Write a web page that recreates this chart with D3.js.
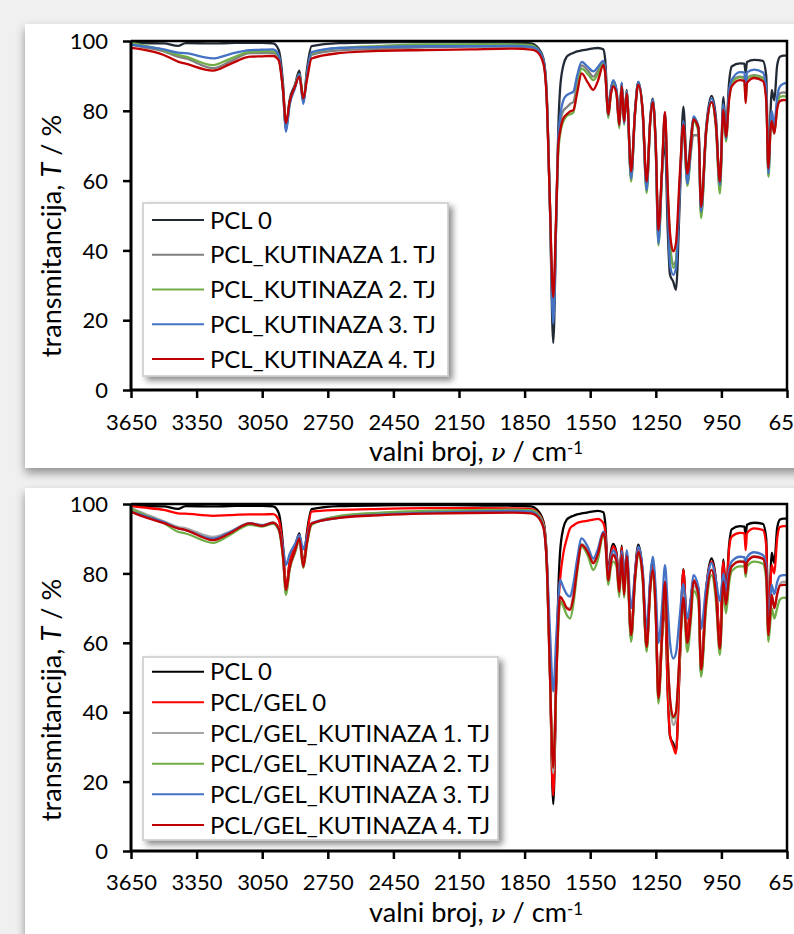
<!DOCTYPE html>
<html><head><meta charset="utf-8">
<script src="https://cdn.jsdelivr.net/npm/d3@7"></script>
<style>html,body{margin:0;padding:0;background:#f0f0f0;overflow:hidden}svg{display:block}</style>
</head><body><svg id="c" width="794" height="934"></svg>
<script>
// ---------- DATA ----------
const wavenumbers = [3650,3600,3500,3435,3400,3275,3200,3106,3050,3000,
2975,2955,2941,2925,2900,2880,2862,2845,2824,2700,
2500,2300,2100,1900,1820,1795,1764,1749,1735,1719,
1705,1696,1688,1673,1657,1642,1627,1610,1589,1560,
1536,1515,1490,1482,1467,1456,1445,1430,1417,1406,
1395,1383,1363,1345,1330,1310,1292,1275,1264,1250,
1238,1222,1208,1195,1185,1170,1158,1140,1124,1106,
1090,1078,1055,1043,1020,995,975,957,941,929,
915,903,865,845,839,833,800,760,745,735,
725,720,708,695,682,665,650];

const pcl0 = [99.5,99.4,99.3,98.6,99.4,99.3,99.4,99.5,99.5,99.3,
97.5,88,75,83,87.5,91.5,82.5,92,98.5,99.4,
99.6,99.7,99.6,99.5,99.3,98.5,95,85,55,13.5,
50,74.5,86,93,95.5,96.2,96.6,97,97.3,97.6,
97.9,98,97.6,95,80,86,88.5,86,77,88,
77,86,61,80,88.3,80,58.5,78,83.5,70,
44,62,71,45,33,31,28.7,55,81.2,62,
72,78,75.5,51,75,84.3,78,58.5,84,74,
88,92.7,93.6,93.5,91,94,94.6,94.3,90,63,
80,86,83,93,95.5,95.8,95.8];

const pclKutinaza1 = [99,98.3,97,95.5,95,92.2,94,96.5,96.5,96.5,
95,86,75,82,87,90.5,83,90,96,97.3,
97.8,98.2,98.4,98.4,98.2,97.5,94,84,55,22,
50,70,76,80,81,82,82.5,88,93,91.5,
89.8,91.5,94,92,78.5,85,88,85.5,75.5,87.5,
76.5,85.5,61,79.5,88,79.5,58,77.5,83,69,
43,62,78.5,55,42,36,37,60,75,60,
68,73,73,50,74,82.5,76,57.5,81,72,
84,88.5,89.8,89.6,84,89.5,90.2,89.5,85,61.5,
76,78,74,82,85,85.3,85];

const pclKutinaza2 = [99.5,98.8,97.4,96,95.5,93.1,94.8,96.9,97,97,
95.5,86,75,82,87,90.5,83,90.5,96.5,98,
98.6,99,99,99,98.8,98,94.3,84,55,23,
50,68,73,77,78.5,79,79.5,86,92.1,90.5,
88.8,90.5,93.8,91.5,78,84.5,87.8,85,75,87.5,
76,85.5,59.7,79,88,79,56.4,77,83,68,
41.4,61,79,56,43,35,37,60,76,58.5,
68,77,74,49.2,73,82.5,75,56.3,80,71.2,
84,88,89.6,89.4,82.6,89.3,90,89.2,84,61.1,
75,77.5,73.5,81,84,84.2,84];

const pclKutinaza3 = [99,98.5,97.6,96.7,96.5,95,96.2,97.4,97.5,97.6,
96,86,74,81.5,86.5,90.5,82,90.5,96.8,98,
98.3,98.5,98.5,98.6,98.3,97.8,94.5,84,55,19,
50,72,78,83,84.5,85,85.5,90,94,92.5,
91.3,92.5,94.3,92,78.8,85.5,88.8,86,76,88,
76.4,85.5,60.6,79.5,88.3,79.5,57.3,77.5,83.1,69,
42,62,79.5,52,36,33,35,58,77,59.2,
69,78.4,75,51.1,74,83.5,76.5,58.7,82,72,
85.5,88.8,91.1,91,85,91,91.8,91,86,62,
77,80,76,84,87,87.8,88];

const pclKutinaza4 = [98,97.6,96,94.1,93.5,91.5,93.3,95.5,95.6,95.7,
94.5,86,76.5,82.5,87,89.8,83.6,89,95,96.5,
97.2,97.4,97.6,97.8,97.5,97,93.5,83.5,55,26.6,
52,70,74,77.8,79,79.8,80.2,85,90.7,88,
86,88.5,93.1,91,79,84.5,87,85,76,87,
77,85,62.6,79.5,87.5,80,59.7,77.5,82.5,70,
45.8,63,79.7,57,45,39.7,42,62,76,62,
70,77.5,75,52.5,74,82.5,76,59.7,80.3,72.6,
83,87,88.8,88.6,82.2,88,89.4,88.5,83,63.5,
75,77,73.5,80.5,82.8,83.1,83];

const pclGel0 = [99.4,99,98.3,97.3,97.2,96.6,96.8,97,97,97.1,
95.5,87,76,83,87.5,91,82.5,91,97.8,98.3,
98.6,98.8,98.8,98.7,98.5,97.8,94.5,84,54,16,
50,70,78,85.7,90,93,93.8,94.5,94.9,95.2,
95.5,95.7,94.5,92.5,80,85,87.8,85.5,76,87.5,
76,86,62,79.5,87.5,80,59,77.5,82,70,
45,62,71,45,33.4,30,28.1,55,81,62,
72,78,75.5,52,75,83.4,77.5,61,83.4,73,
87,90.6,91.7,91.6,86.7,91.6,93,92.5,88,63,
78,82.4,80,90,93.4,93.6,93.6];

const pclGelKutinaza1 = [98.9,97.5,95,93.4,93,90.5,92,94.5,94,94.6,
93,85,74,81,86,89.5,82,89,94.4,96.5,
97.4,97.9,98,98.2,98,97.3,93.8,83,53,22.4,
50,66,72,71,70,70,74,82,88.5,86.5,
83.5,86,91.5,90,77.5,83,85.5,83.5,74.5,85.5,
74.5,85,61.5,78.5,86,79,58,76.5,81,68,
43,61,77.6,55,43,36.3,38,58,73,59,
68,76.5,73.5,51,72,81,74,57.5,77.6,70,
79,82,83.6,83.5,80,83.5,85,84.4,80,61.5,
70,74,70,74,77,77.6,77.5];

const pclGelKutinaza2 = [98.6,97.2,94.5,92,91.5,88.8,91,94,93.5,94.3,
92.5,84.5,73.8,81,86,89.5,81.5,88.5,94,96.5,
97.5,98,98.2,98.4,98.2,97.5,94,83,53,24,
50,64,72,70.5,68,67,71,80,87.7,85,
81,84,91,89.5,76.7,81.5,83.4,82,73.2,84,
73,84,60.3,77.5,85.5,78,57.4,75.5,80,67,
42.5,60,76.5,55,43,38.3,40,57,72,57.4,
66,75,72,50.2,70,79.5,72,56.5,75.5,68.5,
77,80.6,82,82,79,82,83.4,82.8,78,60.3,
67,70,67,70,72.5,73,72.8];

const pclGelKutinaza3 = [97.8,96.8,94.8,93,92.5,90,91.8,94.4,93.8,94.6,
93,87.5,82.4,85.5,88.5,91,87,90.5,94.4,96,
97,97.5,97.8,98,97.8,97,93.5,84,65,46,
62,72,78.1,76,74,73.3,77,84,90.1,87.5,
84.3,87,92,90.5,79.5,84,86.7,84.5,76.5,86.5,
77,86.7,70,80,87.8,81,64,79,84.8,75,
60,70,82.4,70,60,55.5,57,68,77,67,
73,79.5,76,64,76,83,78,72,80,75,
81,83.4,84.8,84.7,82,84.7,86.1,85.3,82,65,
73,76.7,74,77.5,79.3,79.5,79.5];

const pclGelKutinaza4 = [97.8,96.5,94.5,93,92.5,89.6,91.5,94.4,93.7,94.6,
93,85,75.2,81.5,86.5,90,81.9,89,94.4,96,
96.8,97.2,97.4,97.5,97.3,96.6,93.2,83,53,24,
50,66,73.3,72,70,69.5,73,81,88.2,86,
82.9,85.5,91.5,90,78,83,85.3,83.5,74.7,85.3,
73.8,85,62.2,78.5,86.1,79,58.8,76,81,68,
44,61,77.6,55,44,38.7,40,58,73,60,
68,77.6,74,52.2,72,81,74,58.3,77.6,71,
79,82,83.4,83.3,80,83.2,84.8,84.2,80,62.2,
70,73.8,70,74,76.5,76.7,76.7];

const topLabels = ["PCL 0","PCL_KUTINAZA 1. TJ","PCL_KUTINAZA 2. TJ","PCL_KUTINAZA 3. TJ","PCL_KUTINAZA 4. TJ"];
const bottomLabels = ["PCL 0","PCL/GEL 0","PCL/GEL_KUTINAZA 1. TJ","PCL/GEL_KUTINAZA 2. TJ","PCL/GEL_KUTINAZA 3. TJ","PCL/GEL_KUTINAZA 4. TJ"];
const xTickValues = [3650,3350,3050,2750,2450,2150,1850,1550,1250,950,650];
const yTickValues = [0,20,40,60,80,100];

// ---------- DRAWING ----------
const FONT = "Lato, 'Open Sans', 'Noto Sans', sans-serif";
const svg = d3.select("#c");
svg.append("rect").attr("width",794).attr("height",934).attr("fill","#f0f0f0");
const defs = svg.append("defs");
const f1 = defs.append("filter").attr("id","pshadow").attr("x","-5%").attr("y","-5%").attr("width","110%").attr("height","115%");
f1.append("feDropShadow").attr("dx",0).attr("dy",5).attr("stdDeviation",5).attr("flood-color","#000").attr("flood-opacity",0.4);
const f2 = defs.append("filter").attr("id","lshadow").attr("x","-10%").attr("y","-10%").attr("width","125%").attr("height","130%");
f2.append("feDropShadow").attr("dx",4).attr("dy",4).attr("stdDeviation",3).attr("flood-color","#000").attr("flood-opacity",0.45);

// measure helper to size fonts to the reference widths
function fitSize(str, target){
  const t = svg.append("text").attr("font-family",FONT).attr("font-size",20).text(str);
  const w = t.node().getComputedTextLength(); t.remove();
  return 20*target/w;
}
const tickFs = fitSize("3650", 51);
const legFs = fitSize("PCL_KUTINAZA 1. TJ", 226);
const titleFs = fitSize("transmitancija, T / %", 242);

const panels = [
  {rect:[25,24,800,444], top:41, bottom:390, left:131, right:787,
   series:[pcl0,pclKutinaza1,pclKutinaza2,pclKutinaza3,pclKutinaza4],
   labels:topLabels, colors:["#222a35","#7f7f7f","#70ad47","#4472c4","#c00000"],
   legend:{x:143, y:203, w:305, h:173, row0:220, step:34.75},
   ytitleY:236, xlabY:430, xtitleY:461},
  {rect:[25,488,800,460], top:504, bottom:851, left:131, right:787,
   series:[pcl0,pclGel0,pclGelKutinaza1,pclGelKutinaza2,pclGelKutinaza3,pclGelKutinaza4],
   labels:bottomLabels, colors:["#000000","#ff0000","#a6a6a6","#70ad47","#4472c4","#c00000"],
   legend:{x:143, y:657, w:355, h:183, row0:671.7, step:30.65},
   ytitleY:700, xlabY:890, xtitleY:922}
];

panels.forEach(p=>{
  svg.append("rect").attr("x",p.rect[0]).attr("y",p.rect[1]).attr("width",p.rect[2]).attr("height",p.rect[3])
    .attr("fill","#fff").attr("filter","url(#pshadow)");
  const x = d3.scaleLinear().domain([3650,650]).range([p.left,p.right]);
  const y = d3.scaleLinear().domain([0,100]).range([p.bottom,p.top]);
  const g = svg.append("g");

  // series lines
  const line = d3.line().x((d,i)=>x(wavenumbers[i])).y(d=>y(d)).curve(d3.curveMonotoneX);
  p.series.forEach((s,i)=>{
    g.append("path").attr("d",line(s)).attr("fill","none").attr("stroke",p.colors[i])
      .attr("stroke-width",2.3).attr("stroke-linejoin","round");
  });

  // frame (top & right)
  g.append("path").attr("d",`M${p.left},${p.top}H${p.right}V${p.bottom}`).attr("fill","none")
    .attr("stroke","#000").attr("stroke-width",2.5);

  // axes
  const xa = g.append("g").attr("transform",`translate(0,${p.bottom})`)
    .call(d3.axisBottom(x).tickValues(xTickValues).tickSize(8).tickFormat(d=>String(d)));
  const ya = g.append("g").attr("transform",`translate(${p.left},0)`)
    .call(d3.axisLeft(y).tickValues(yTickValues).tickSize(8).tickFormat(d=>String(d)));
  [xa,ya].forEach(a=>{
    a.select(".domain").attr("stroke","#000").attr("stroke-width",3);
    a.selectAll(".tick line").attr("stroke","#000").attr("stroke-width",2.5);
    a.selectAll(".tick text").attr("font-family",FONT).attr("font-size",tickFs).attr("fill","#000");
  });
  xa.select(".domain").attr("d",`M${p.left},0H${p.right}`);
  ya.select(".domain").attr("d",`M0,${p.top}V${p.bottom}`);
  xa.selectAll(".tick text").attr("y",null).attr("dy",null).attr("transform",`translate(0,${p.xlabY-p.bottom})`);
  ya.selectAll(".tick text").attr("x",-23).attr("dy","0.35em");

  // axis titles
  const yt = svg.append("text").attr("transform",`translate(61,${p.ytitleY}) rotate(-90)`)
    .attr("text-anchor","middle").attr("font-family",FONT).attr("font-size",titleFs).attr("fill","#000");
  yt.append("tspan").text("transmitancija, ");
  yt.append("tspan").attr("font-style","italic").text("T");
  yt.append("tspan").text(" / %");
  const xt = svg.append("text").attr("x",476).attr("y",p.xtitleY)
    .attr("text-anchor","middle").attr("font-family",FONT).attr("font-size",titleFs).attr("fill","#000");
  xt.append("tspan").text("valni broj, ");
  xt.append("tspan").attr("font-style","italic").attr("font-family","'DejaVu Serif', 'DejaVu Sans', serif")
    .attr("font-size",titleFs*0.9).text("ν");
  xt.append("tspan").text(" / cm");
  xt.append("tspan").attr("font-size",titleFs*0.62).attr("dy",-7).text("-1");

  // legend
  const L = p.legend;
  const lg = svg.append("g");
  lg.append("rect").attr("x",L.x).attr("y",L.y).attr("width",L.w).attr("height",L.h)
    .attr("fill","#fff").attr("stroke","#c9c9c9").attr("stroke-width",1.5).attr("filter","url(#lshadow)");
  p.labels.forEach((lab,i)=>{
    const cy = L.row0 + i*L.step;
    lg.append("line").attr("x1",152).attr("x2",204).attr("y1",cy).attr("y2",cy)
      .attr("stroke",p.colors[i]).attr("stroke-width",2);
    lg.append("text").attr("x",210).attr("y",cy).attr("dy","0.36em").attr("font-family",FONT)
      .attr("font-size",legFs).attr("fill","#000").text(lab);
  });
});
</script></body></html>
